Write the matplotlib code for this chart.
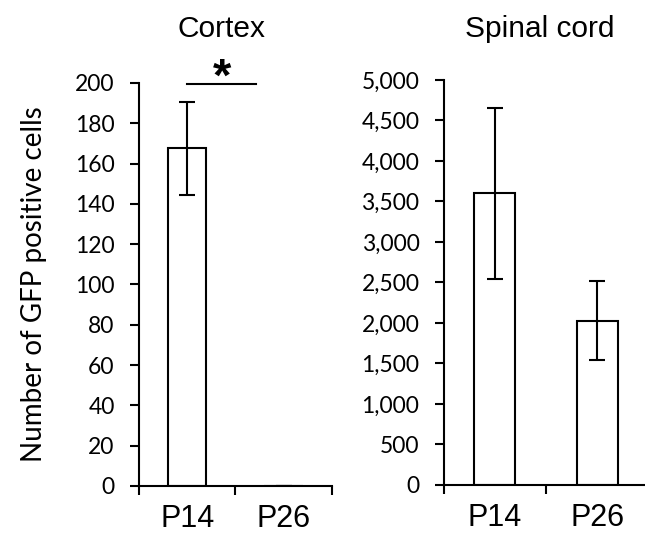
import matplotlib
matplotlib.use("Agg")
import matplotlib.pyplot as plt
from matplotlib.ticker import FuncFormatter

plt.rcParams['font.family'] = ['Liberation Sans', 'DejaVu Sans']

groups = ['P14', 'P26']
cortex_mean = [167.5, 0]
cortex_err = [23, 0]
spinal_mean = [3600, 2030]
spinal_err = [1060, 490]
titles = ['Cortex', 'Spinal cord']

fig = plt.figure(figsize=(6.45, 5.35), dpi=100)
ax1 = fig.add_axes([0.2155, 0.0916, 0.299, 0.7533])
ax2 = fig.add_axes([0.688, 0.0935, 0.317, 0.757])

LW = 1.5


def style(ax, ymax, step, title, tx):
    x = range(len(groups))
    ax.set_xlim(-0.5, 1.5)
    ax.set_ylim(0, ymax)
    ax.set_yticks(range(0, ymax + 1, step))
    ax.set_xticks(list(x))
    ax.set_xticklabels(groups, fontsize=22)
    ax.set_xticks([-0.5, 0.5, 1.5], minor=True)
    ax.tick_params(axis='x', which='major', length=0, pad=13)
    ax.tick_params(axis='x', which='minor', length=6.5, width=LW, direction='out')
    ax.tick_params(axis='y', length=6.5, width=LW, pad=11)
    for lab in ax.get_yticklabels():
        lab.set_family(['Lato', 'DejaVu Sans'])
        lab.set_fontsize(16.5)
    for s in ['top', 'right']:
        ax.spines[s].set_visible(False)
    for s in ['left', 'bottom']:
        ax.spines[s].set_linewidth(LW)
    ax.spines['left'].set_bounds(0, ymax)
    fig.text(tx, 0.93, title, fontsize=21.5, ha='center', va='baseline')


kw = dict(width=0.4, color='white', edgecolor='black', linewidth=LW,
          error_kw=dict(elinewidth=LW, capsize=6, capthick=LW, ecolor='black'))

ax1.bar(range(2), cortex_mean, yerr=[cortex_err, cortex_err], **kw)
ax1.yaxis.set_major_formatter(FuncFormatter(lambda v, p: f'{int(v)}'))
style(ax1, 200, 20, titles[0], 0.344)
ax1.set_ylabel('Number of GFP positive cells', fontsize=20, labelpad=20,
               family=['Lato', 'DejaVu Sans'])

# significance bar
ax1.plot([0.0, 0.71], [199.3, 199.3], color='black', lw=LW, clip_on=False)
ax1.text(0.36, 191, '*', ha='center', va='bottom', fontsize=34, fontweight='bold')

ax2.bar(range(2), spinal_mean, yerr=[spinal_err, spinal_err], **kw)
ax2.yaxis.set_major_formatter(FuncFormatter(lambda v, p: f'{int(v):,}'))
style(ax2, 5000, 500, titles[1], 0.837)

fig.savefig('out.png', dpi=100)
